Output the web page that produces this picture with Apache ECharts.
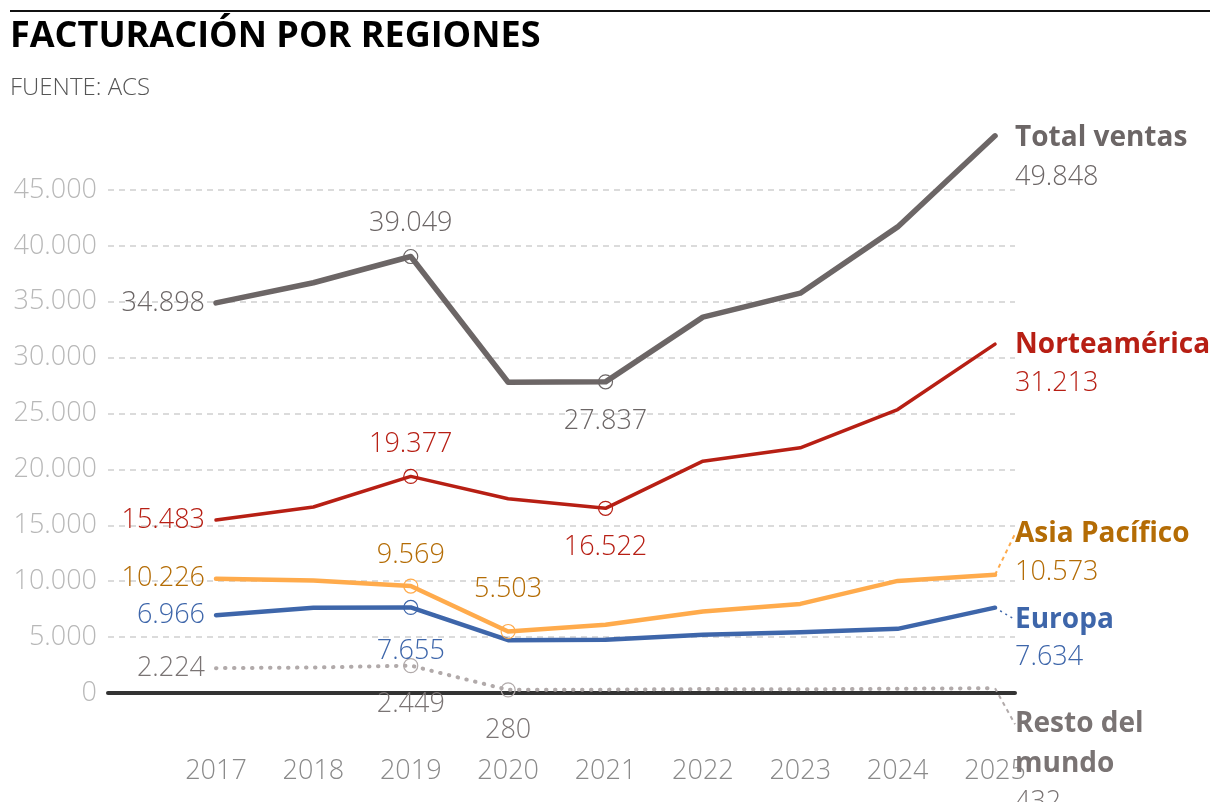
<!DOCTYPE html>
<html>
<head>
<meta charset="utf-8">
<title>Facturación por regiones</title>
<script src="https://cdn.jsdelivr.net/npm/echarts@6/dist/echarts.min.js"></script>
<style>
  html, body { margin: 0; padding: 0; background: #fff; }
  #chart { width: 1220px; height: 802px; }
</style>
</head>
<body>
<div id="chart"></div>
<script>
// datos (millones de euros)
var years = [2017, 2018, 2019, 2020, 2021, 2022, 2023, 2024, 2025];
var totalVentas  = [34898, 36700, 39049, 27800, 27837, 33630, 35770, 41700, 49848];
var norteamerica = [15483, 16640, 19377, 17380, 16522, 20740, 21940, 25360, 31213];
var asiaPacifico = [10226, 10060, 9569, 5503, 6110, 7290, 7970, 10030, 10573];
var europa       = [6966, 7620, 7655, 4730, 4770, 5210, 5440, 5740, 7634];
var restoMundo   = [2224, 2280, 2449, 280, 300, 350, 330, 380, 432];

var FONT = "'Open Sans', sans-serif";

function fmt(v) {
    return String(Math.round(v)).replace(/\B(?=(\d{3})+(?!\d))/g, '.');
}

// marks: indice -> [posicion etiqueta, distancia, circulo]
function buildData(values, color, textColor, marks) {
    return values.map(function (v, i) {
        var item = { value: [years[i], v] };
        var m = marks[i];
        if (m) {
            item.label = {
                show: true, position: m[0], distance: m[1],
                color: textColor, fontSize: 27, fontWeight: 300, fontFamily: FONT,
                formatter: function (p) { return fmt(p.value[1]); }
            };
            if (m[2]) {
                item.symbolSize = 14;
                item.itemStyle = { color: 'rgba(255,255,255,0)', borderColor: color, borderWidth: 1.2 };
            }
        }
        return item;
    });
}

function richStyles(nameColor, valColor) {
    return {
        n: { fontFamily: FONT, fontSize: 28, fontWeight: 'bold', color: nameColor, lineHeight: 39 },
        v: { fontFamily: FONT, fontSize: 27, fontWeight: 300, color: valColor, lineHeight: 39 }
    };
}

function makeSeries(name, values, cfg) {
    var data = buildData(values, cfg.color, cfg.text, cfg.marks);
    var last = data.length - 1;
    var lastVal = fmt(values[last]);
    var names = (cfg.endName || name).split('\n');
    var nameColor = cfg.nameColor || cfg.text;
    var s = {
        name: name,
        type: 'line',
        data: data,
        symbol: 'circle',
        symbolSize: 0,
        clip: false,
        z: cfg.z,
        itemStyle: { color: cfg.color },
        lineStyle: Object.assign({ color: cfg.color, width: cfg.width, cap: 'round', join: 'round' }, cfg.lineExtra || {}),
        emphasis: { disabled: true }
    };
    if (cfg.leader) {
        // nombre con línea guía; resto del texto como endLabel
        data[last].label = {
            show: true, position: 'right', distance: 20,
            formatter: '{n|' + names[0] + '}',
            rich: richStyles(nameColor, cfg.text)
        };
        data[last].labelLine = { show: true, lineStyle: cfg.leader };
        s.labelLayout = function (p) {
            return p.dataIndex === last ? { dy: cfg.dy } : {};
        };
        s.endLabel = {
            show: true, distance: 20, offset: [0, cfg.valDy],
            formatter: names.slice(1).map(function (t) { return '{n|' + t + '}\n'; }).join('') + '{v|' + lastVal + '}',
            rich: richStyles(nameColor, cfg.text)
        };
    } else {
        data[last].label = {
            show: true, position: 'right', distance: 20,
            formatter: '{n|' + names[0] + '}\n{v|' + lastVal + '}',
            rich: richStyles(nameColor, cfg.text)
        };
        s.labelLayout = function (p) {
            return p.dataIndex === last ? { dy: cfg.dy } : {};
        };
    }
    return s;
}

var series = [
    makeSeries('Resto del mundo', restoMundo, {
        color: '#b1aaaa', text: '#7a7474', width: 4, z: 2, dy: 36, valDy: 95,
        endName: 'Resto del\nmundo',
        lineExtra: { type: [0.5, 8.5] },
        leader: { color: '#b1aaaa', width: 2, type: [4, 4] },
        marks: { 0: ['left', 11], 2: ['bottom', 18, true], 3: ['bottom', 19, true] }
    }),
    makeSeries('Europa', europa, {
        color: '#3e66aa', text: '#3e66aa', width: 4.5, z: 3, dy: 12, valDy: 50,
        leader: { color: '#3e66aa', width: 1.5, type: [2, 4] },
        marks: { 0: ['left', 11], 2: ['bottom', 23, true] }
    }),
    makeSeries('Asia Pacífico', asiaPacifico, {
        color: '#ffab4c', text: '#b46c05', width: 4.5, z: 4, dy: -41, valDy: -3,
        leader: { color: '#ffab4c', width: 2, type: [4, 4] },
        marks: { 0: ['left', 11], 2: ['top', 10, true], 3: ['top', 21, true] }
    }),
    makeSeries('Norteamérica', norteamerica, {
        color: '#b71f14', text: '#b71f14', width: 3.5, z: 5, dy: 20,
        marks: { 0: ['left', 11], 2: ['top', 11, true], 4: ['bottom', 18, true] }
    }),
    makeSeries('Total ventas', totalVentas, {
        color: '#6c6666', text: '#6c6666', width: 5.5, z: 6, dy: 22,
        marks: { 0: ['left', 11], 2: ['top', 12, true], 4: ['bottom', 18, true] }
    })
];

var chart = echarts.init(document.getElementById('chart'));
chart.setOption({
    animation: false,
    backgroundColor: '#fff',
    textStyle: { fontFamily: FONT },
    graphic: [
        { type: 'line', shape: { x1: 10, y1: 11, x2: 1210, y2: 11 }, style: { stroke: '#111', lineWidth: 2 } },
        { type: 'text', x: 10, y: 37, style: { text: 'FACTURACIÓN POR REGIONES', font: "bold 36px 'Open Sans'", fill: '#000', verticalAlign: 'middle' } },
        { type: 'text', x: 10, y: 88, style: { text: 'FUENTE: ACS', font: "300 24px 'Open Sans'", fill: '#555', verticalAlign: 'middle' } }
    ],
    grid: { left: 108, right: 205, top: 190, bottom: 109, containLabel: false },
    xAxis: {
        type: 'value',
        min: 2015.891,
        max: 2025.205,
        splitLine: { show: false },
        axisTick: { show: false },
        axisLine: { show: true, onZero: true, lineStyle: { color: '#333', width: 4 } },
        axisLabel: {
            customValues: years,
            margin: 65,
            color: '#8a8a8a', fontSize: 27, fontWeight: 300, fontFamily: FONT,
            formatter: function (v) { return String(v); }
        }
    },
    yAxis: {
        type: 'value',
        min: 0,
        max: 45000,
        interval: 5000,
        axisLine: { show: false },
        axisTick: { show: false },
        splitLine: { show: true, lineStyle: { color: '#cfcfcf', width: 1.5, type: [6, 5] } },
        axisLabel: {
            margin: 11,
            color: '#b8b8b8', fontSize: 27, fontWeight: 300, fontFamily: FONT,
            formatter: fmt
        }
    },
    series: series
});
</script>
</body>
</html>
